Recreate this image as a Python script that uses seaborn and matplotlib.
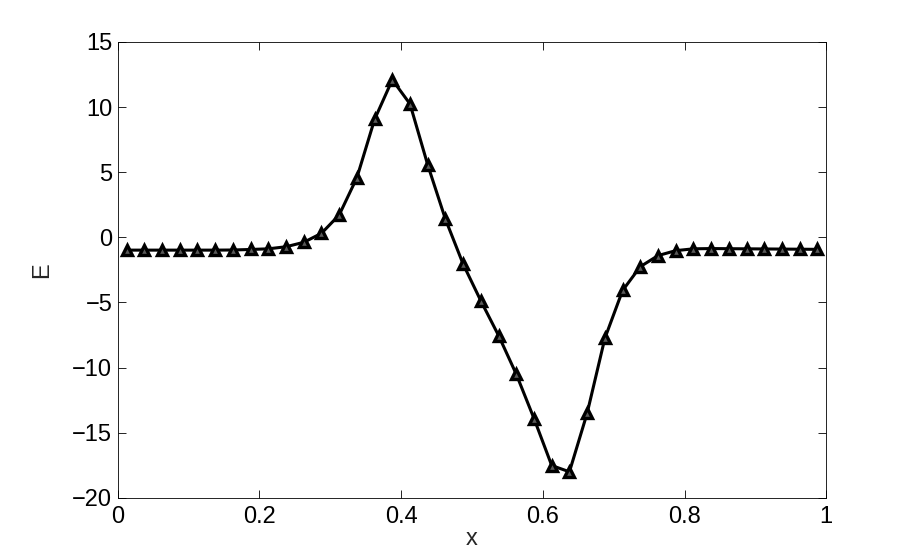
import numpy as np
import pandas as pd
import seaborn as sns
import matplotlib
matplotlib.use("Agg")
import matplotlib.pyplot as plt

# values
x = [0.0125, 0.0375, 0.0625, 0.0875, 0.1125, 0.1375, 0.1625, 0.1875, 0.2125, 0.2375,
     0.2625, 0.2875, 0.3125, 0.3375, 0.3625, 0.3875, 0.4125, 0.4375, 0.4625, 0.4875,
     0.5125, 0.5375, 0.5625, 0.5875, 0.6125, 0.6375, 0.6625, 0.6875, 0.7125, 0.7375,
     0.7625, 0.7875, 0.8125, 0.8375, 0.8625, 0.8875, 0.9125, 0.9375, 0.9625, 0.9875]
E = [-0.98, -0.98, -0.98, -0.98, -0.98, -0.98, -0.97, -0.93, -0.88, -0.72,
     -0.38, 0.31, 1.72, 4.58, 9.06, 12.1, 10.24, 5.56, 1.39, -2.06,
     -4.88, -7.54, -10.51, -13.91, -17.52, -18.0, -13.5, -7.75, -4.08, -2.25,
     -1.40, -1.02, -0.88, -0.86, -0.87, -0.88, -0.89, -0.90, -0.91, -0.92]
xticks = [0, 0.2, 0.4, 0.6, 0.8, 1]
yticks = [-20, -15, -10, -5, 0, 5, 10, 15]

df = pd.DataFrame({"x": x, "E": E})

sns.set_style("white")
plt.rcParams["font.family"] = ["Liberation Sans", "DejaVu Sans"]

fig = plt.figure(figsize=(9.13, 5.6), dpi=100)
ax = fig.add_axes([0.129, 0.111, 0.776, 0.814])

sns.lineplot(data=df, x="x", y="E", ax=ax, color="k", linewidth=2.2,
             marker="^", markersize=7.5, markerfacecolor="0.35",
             markeredgecolor="k", markeredgewidth=2.4)

ax.set_xlim(0, 1)
ax.set_ylim(-20, 15)
ax.set_xticks(xticks)
ax.set_xticklabels([f"{t:g}" for t in xticks])
ax.set_yticks(yticks)
ax.set_yticklabels([f"{t:g}".replace("-", "\u2212") for t in yticks])
ax.tick_params(direction="in", length=6, width=0.6, labelsize=17,
               top=True, right=True, bottom=True, left=True, colors="k")
ax.tick_params(axis="x", pad=6)
ax.tick_params(axis="y", pad=4)
for s in ax.spines.values():
    s.set_visible(True)
    s.set_color("k")
    s.set_linewidth(0.6)
ax.set_xlabel("x", fontsize=17, labelpad=0)
ax.set_ylabel("E", fontsize=17, labelpad=14)

fig.savefig("out.png", dpi=100)
